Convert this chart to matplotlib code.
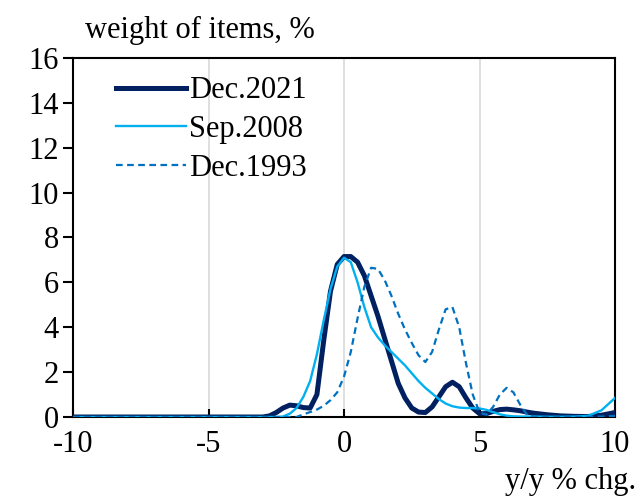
import matplotlib
matplotlib.use("Agg")
import matplotlib.pyplot as plt

plt.rcParams['font.family'] = ['Liberation Serif', 'DejaVu Serif']
plt.rcParams['axes.unicode_minus'] = False

# x positions (y/y % change) where curves were read
x_vals = [-10, -9, -8, -7, -6, -5, -4, -3.5, -3,
          -2.75, -2.5, -2.25, -2, -1.75, -1.5, -1.25, -1, -0.75, -0.5, -0.25,
          0, 0.25, 0.5, 0.75, 1, 1.25, 1.5, 1.75, 2, 2.25, 2.5, 2.75,
          3, 3.25, 3.5, 3.75, 4, 4.25, 4.5, 4.75, 5, 5.25, 5.5, 5.75,
          6, 6.25, 6.5, 6.75, 7, 7.5, 8, 8.5, 9, 9.5, 10]

dec2021 = [0, 0, 0, 0, 0, 0, 0, 0, 0,
           0.05, 0.2, 0.4, 0.53, 0.5, 0.42, 0.4, 1.0, 3.4, 5.6, 6.8,
           7.15, 7.15, 6.9, 6.3, 5.4, 4.5, 3.5, 2.5, 1.5, 0.85, 0.4, 0.22,
           0.2, 0.45, 0.9, 1.35, 1.55, 1.35, 0.85, 0.4, 0.15, 0.15, 0.25, 0.33,
           0.35, 0.32, 0.28, 0.22, 0.17, 0.1, 0.05, 0.03, 0.02, 0.08, 0.2]

sep2008 = [0, 0, 0, 0, 0, 0, 0, 0, 0,
           0, 0, 0.02, 0.15, 0.4, 0.9, 1.6, 2.8, 4.3, 5.7, 6.7,
           7.1, 6.9, 6.0, 4.9, 4.0, 3.55, 3.2, 2.9, 2.6, 2.3, 1.95, 1.6,
           1.3, 1.05, 0.8, 0.6, 0.48, 0.42, 0.4, 0.4, 0.38, 0.32, 0.22, 0.12,
           0.06, 0.03, 0.02, 0.02, 0.02, 0.01, 0.01, 0.02, 0.05, 0.3, 0.85]

dec1993 = [0, 0, 0, 0, 0, 0, 0, 0, 0,
           0, 0, 0, 0, 0, 0.12, 0.22, 0.33, 0.5, 0.75, 1.1,
           1.8, 2.9, 4.4, 5.8, 6.65, 6.6, 6.1, 5.4, 4.6, 3.9, 3.3, 2.75,
           2.45, 2.9, 3.9, 4.8, 4.9, 4.0, 2.4, 1.0, 0.2, 0.1, 0.45, 1.0,
           1.3, 1.1, 0.55, 0.1, 0.02, 0, 0, 0, 0, 0.02, 0.05]

fig = plt.figure(figsize=(6.42, 5.04), dpi=100)
ax = fig.add_axes([0.1137, 0.1726, 0.8443, 0.7124])

ax.plot(x_vals, dec2021, color='#002060', lw=3.6, label='Dec.2021', zorder=3)
ax.plot(x_vals, sep2008, color='#00b0f0', lw=1.7, label='Sep.2008', zorder=4)
ax.plot(x_vals, dec1993, color='#0070c0', lw=1.6, ls=(0, (3, 2)), label='Dec.1993', zorder=5)

ax.set_xlim(-10, 10)
ax.set_ylim(0, 16)
ax.set_xticks([-10, -5, 0, 5, 10])
ax.set_yticks(range(0, 17, 2))
ax.tick_params(axis='x', direction='in', length=6, width=1.5, labelsize=22, pad=9)
ax.tick_params(axis='y', direction='out', length=7, width=1.5, labelsize=22, pad=3)
ax.grid(axis='x', color='#d9d9d9', lw=1.2)
for s in ax.spines.values():
    s.set_linewidth(1.5)

leg = ax.legend(loc='upper left', frameon=False, fontsize=22, handlelength=2.3,
                handletextpad=0.1, labelspacing=0.32, borderaxespad=0.2,
                bbox_to_anchor=(0.045, 1.0))

fig.text(0.133, 0.925, 'weight of items, %', fontsize=22)
fig.text(0.787, 0.03, 'y/y % chg.', fontsize=22)

fig.savefig('out.png', dpi=100)
